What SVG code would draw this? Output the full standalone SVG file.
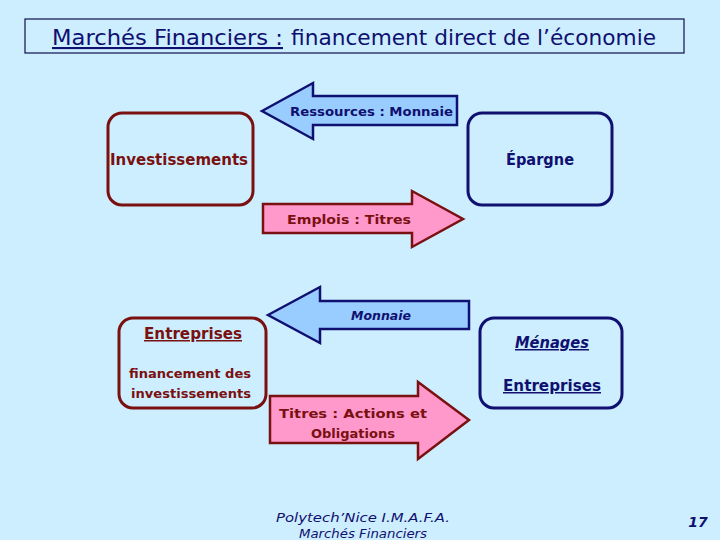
<svg xmlns="http://www.w3.org/2000/svg" width="720" height="540" viewBox="0 0 720 540">
<style>
.t{font-family:"DejaVu Sans","Liberation Sans",sans-serif;}
.b{font-weight:bold;}
.red{fill:#7a1010;}
.navy{fill:#101070;}
.boxr{fill:none;stroke:#7a1010;stroke-width:3;}
.boxn{fill:none;stroke:#101070;stroke-width:3;}
.arrb{fill:#99ccff;stroke:#101070;stroke-width:2.5;stroke-linejoin:miter;}
.arrp{fill:#ff99cc;stroke:#7a1010;stroke-width:2.5;stroke-linejoin:miter;}
.u{text-decoration:underline;}
</style>
<rect width="720" height="540" fill="#cceeff"/>
<g id="title">
<rect x="25" y="19" width="659" height="34" fill="none" stroke="#101050" stroke-width="1.2"/>
<text class="t navy u" x="52" y="45" font-size="21" textLength="231" lengthAdjust="spacingAndGlyphs">Marchés Financiers :</text>
<text class="t navy" x="291" y="45" font-size="21" textLength="365" lengthAdjust="spacingAndGlyphs">financement direct de l’économie</text>
</g>
<g id="connectors">
<g id="arrow-ressources">
<polygon class="arrb" points="262,111 313,83 313,96 457,96 457,125 313,125 313,139"/>
<text class="t b navy" x="290" y="116" font-size="13" textLength="163" lengthAdjust="spacingAndGlyphs">Ressources : Monnaie</text>
</g>
<g id="arrow-emplois">
<polygon class="arrp" points="263,204 412,204 412,191 463,219 412,247 412,233 263,233"/>
<text class="t b red" x="287" y="224" font-size="13" textLength="124" lengthAdjust="spacingAndGlyphs">Emplois : Titres</text>
</g>
<g id="arrow-monnaie">
<polygon class="arrb" points="268,315 320,287 320,301 469,301 469,329 320,329 320,343"/>
<text class="t b navy" x="381" y="320" font-size="13" text-anchor="middle" font-style="italic" textLength="60" lengthAdjust="spacingAndGlyphs">Monnaie</text>
</g>
<g id="arrow-titres">
<polygon class="arrp" points="270,396 418,396 418,382 469,420 418,459 418,443 270,443"/>
<text class="t b red" x="353" y="418" font-size="13" text-anchor="middle" textLength="148" lengthAdjust="spacingAndGlyphs">Titres : Actions et</text>
<text class="t b red" x="353" y="438" font-size="13" text-anchor="middle" textLength="84" lengthAdjust="spacingAndGlyphs">Obligations</text>
</g>
</g>
<g id="investissements">
<rect class="boxr" x="108" y="113" width="145" height="92" rx="14"/>
<text class="t b red" x="110" y="165" font-size="15" textLength="138" lengthAdjust="spacingAndGlyphs">Investissements</text>
</g>
<g id="epargne">
<rect class="boxn" x="468" y="113" width="144" height="92" rx="14"/>
<text class="t b navy" x="540" y="165" font-size="15" text-anchor="middle" textLength="68" lengthAdjust="spacingAndGlyphs">Épargne</text>
</g>
<g id="entreprises">
<rect class="boxr" x="119" y="318" width="147" height="90" rx="14"/>
<text class="t b red u" x="193" y="339" font-size="15" text-anchor="middle" textLength="98" lengthAdjust="spacingAndGlyphs">Entreprises</text>
<text class="t b red" x="190" y="378" font-size="13" text-anchor="middle" textLength="122" lengthAdjust="spacingAndGlyphs">financement des</text>
<text class="t b red" x="191" y="398" font-size="13" text-anchor="middle" textLength="120" lengthAdjust="spacingAndGlyphs">investissements</text>
</g>
<g id="menages">
<rect class="boxn" x="480" y="318" width="142" height="90" rx="14"/>
<text class="t b navy u" x="552" y="348" font-size="15" text-anchor="middle" font-style="italic" textLength="74" lengthAdjust="spacingAndGlyphs">Ménages</text>
<text class="t b navy u" x="552" y="391" font-size="15" text-anchor="middle" textLength="98" lengthAdjust="spacingAndGlyphs">Entreprises</text>
</g>
<g id="footer">
<text class="t navy" x="363" y="522" font-size="13" text-anchor="middle" font-style="italic" textLength="174" lengthAdjust="spacingAndGlyphs">Polytech’Nice I.M.A.F.A.</text>
<text class="t navy" x="363" y="538" font-size="13" text-anchor="middle" font-style="italic" textLength="128" lengthAdjust="spacingAndGlyphs">Marchés Financiers</text>
<text class="t b navy" x="698" y="527" font-size="14" text-anchor="middle" font-style="italic">17</text>
</g>
</svg>
